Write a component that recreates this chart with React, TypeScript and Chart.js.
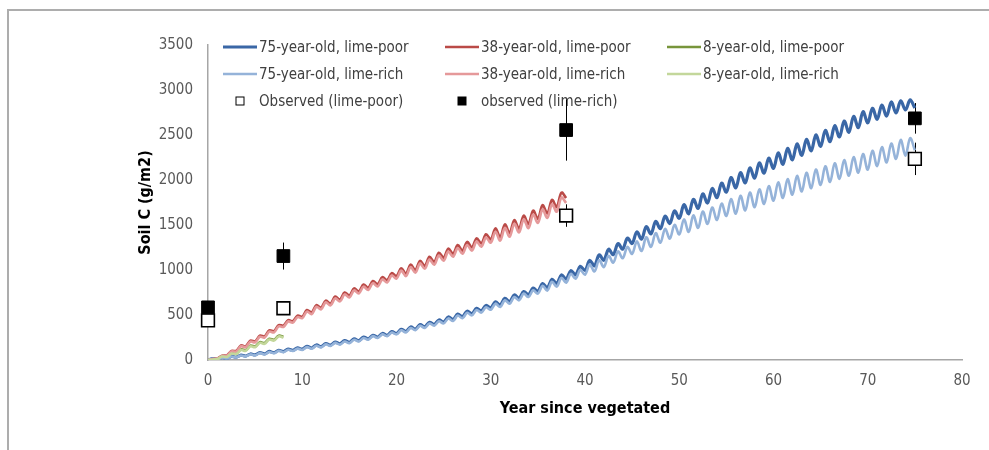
import React, { useEffect, useRef } from 'react';
import { Chart, registerables } from 'chart.js';

Chart.register(...registerables);

// ---------- DATA ----------
// simulated series sampled every half year (years since vegetated)
const STEP_YEARS = 0.5;

const poor75 = [0,15,5,28,18,41,31,54,44,67,57,82,68,95,81,108,94,121,107,134,120,
151,133,167,149,183,165,199,181,215,197,
235,215,255,235,275,255,295,275,315,295,
341,318,367,344,393,370,419,396,445,422,
478,450,510,482,542,514,574,546,606,578,
647,610,685,648,723,686,761,724,799,762,
849,803,897,851,945,899,993,947,1041,995,
1106,1047,1168,1109,1230,1171,1292,1233,1354,1295,
1424,1343,1482,1401,1540,1459,1598,1517,1656,1575,
1725,1625,1785,1685,1845,1745,1905,1805,1965,1865,
2027,1914,2081,1968,2135,2022,2189,2076,2243,2130,
2300,2175,2350,2225,2400,2275,2450,2325,2500,2375,
2551,2427,2603,2479,2655,2531,2707,2583,2759,2635,
2797,2675,2832,2710,2867,2745,2880,2780,2890,2800];

const rich75 = [0,14,4,26,16,38,28,50,40,62,52,76,62,89,75,101,87,113,100,126,112,
143,125,158,140,174,156,190,171,205,187,
225,205,245,225,265,245,285,265,305,285,
330,307,356,332,380,357,406,382,430,407,
462,434,494,465,524,496,556,527,586,558,
626,589,664,626,700,663,738,700,774,737,
825,771,869,815,913,859,957,903,1001,947,
1060,984,1109,1033,1158,1082,1207,1131,1256,1180,
1318,1211,1364,1257,1410,1303,1456,1349,1502,1395,
1562,1424,1606,1468,1650,1512,1694,1556,1738,1600,
1788,1626,1824,1662,1860,1698,1896,1734,1932,1770,
1973,1801,2009,1837,2045,1873,2081,1909,2117,1945,
2152,1979,2186,2013,2220,2047,2254,2081,2288,2115,
2325,2155,2365,2195,2405,2235,2445,2270,2465,2330];

const poor38 = [0,12,18,48,52,100,102,163,152,215,207,270,262,328,322,388,382,443,432,493,482,
555,527,610,582,660,627,705,672,750,717,795,762,838,802,878,842,920,887,965,932,
1020,960,1060,1000,1102,1045,1147,1090,1192,1135,1237,1180,1277,1215,1312,1250,1352,1295,1397,1340,
1462,1365,1507,1410,1555,1460,1605,1510,1660,1570,1720,1630,1780,1700,1860,1800];

const rich38 = [0,10,16,44,48,94,94,153,142,204,196,258,250,315,308,374,367,428,416,477,465,
538,510,592,563,641,607,685,651,729,695,773,739,815,778,854,817,895,861,939,905,
993,932,1032,971,1073,1015,1117,1059,1161,1103,1205,1147,1244,1181,1278,1215,1317,1259,1361,1303,
1424,1326,1468,1370,1514,1418,1562,1466,1615,1524,1672,1580,1730,1648,1805,1745];

const poor8 = [0,8,12,42,38,78,72,118,110,160,150,198,188,236,224,270,258];
const rich8 = [0,6,10,38,34,72,66,110,102,152,142,190,180,228,216,262,250];

const obsYears = [0, 8, 38, 75];
const obsPoor = [440, 575, 1605, 2235];
const obsPoorErr = [0, 0, 125, 180];
const obsRich = [585, 1155, 2555, 2685];
const obsRichErr = [0, 150, 340, 170];

const seriesLabels = [
  '75-year-old, lime-poor', '38-year-old, lime-poor', '8-year-old, lime-poor',
  '75-year-old, lime-rich', '38-year-old, lime-rich', '8-year-old, lime-rich',
  'Observed (lime-poor)', 'observed (lime-rich)',
];

const xTitle = 'Year since vegetated';
const yTitle = 'Soil C (g/m2)';

// ---------- STYLE ----------
const FONT = "'Liberation Sans Narrow', 'Arial Narrow', 'DejaVu Sans Condensed', 'Liberation Sans', sans-serif";
const lineColors = ['#3A67A6', '#BA4A47', '#77953B', '#95B3D9', '#E5999A', '#C3D79B'];
const lineWidths = [3.2, 2.6, 2.6, 2.6, 2.6, 2.6];

const toPts = (vals: number[]) => vals.map((v, i) => ({ x: i * STEP_YEARS, y: v }));
const toObs = (vals: number[]) => vals.map((v, i) => ({ x: obsYears[i], y: v }));

const lineSeries = [poor75, poor38, poor8, rich75, rich38, rich8];

const decor = {
  id: 'decor',
  beforeDatasetsDraw(chart: any) {
    const ctx = chart.ctx as CanvasRenderingContext2D;
    // legend
    const rows = [47, 74, 101];
    const cols = [223, 445, 667];
    ctx.save();
    ctx.font = `15px ${FONT}`;
    ctx.textBaseline = 'middle';
    ctx.textAlign = 'left';
    for (let i = 0; i < 6; i++) {
      const r = i < 3 ? 0 : 1;
      const c = i % 3;
      const y = rows[r];
      const x = cols[c];
      ctx.strokeStyle = lineColors[i];
      ctx.lineWidth = lineWidths[i];
      ctx.beginPath();
      ctx.moveTo(x, y);
      ctx.lineTo(x + 34, y);
      ctx.stroke();
      ctx.fillStyle = '#404040';
      ctx.fillText(seriesLabels[i], x + 36, y + 1);
    }
    for (let k = 0; k < 2; k++) {
      const x = cols[k] + 17;
      const y = rows[2];
      ctx.lineWidth = 1;
      ctx.strokeStyle = '#000';
      ctx.fillStyle = k === 0 ? '#fff' : '#000';
      ctx.fillRect(x - 4, y - 4, 8, 8);
      ctx.strokeRect(x - 4, y - 4, 8, 8);
      ctx.fillStyle = '#404040';
      ctx.fillText(seriesLabels[6 + k], cols[k] + 36, y + 1);
    }
    // error bars
    const xs = chart.scales.x;
    const ys = chart.scales.y;
    ctx.strokeStyle = '#000';
    ctx.lineWidth = 1;
    const drawErr = (vals: number[], errs: number[]) => {
      vals.forEach((v, i) => {
        if (!errs[i]) return;
        const px = Math.round(xs.getPixelForValue(obsYears[i])) + 0.5;
        ctx.beginPath();
        ctx.moveTo(px, ys.getPixelForValue(v - errs[i]));
        ctx.lineTo(px, ys.getPixelForValue(v + errs[i]));
        ctx.stroke();
      });
    };
    drawErr(obsPoor, obsPoorErr);
    drawErr(obsRich, obsRichErr);
    ctx.restore();
  },
  afterDraw(chart: any) {
    const ctx = chart.ctx as CanvasRenderingContext2D;
    const { left, right, top, bottom } = chart.chartArea;
    ctx.save();
    ctx.fillStyle = '#000';
    ctx.font = `bold 16px ${FONT}`;
    ctx.textAlign = 'center';
    ctx.textBaseline = 'middle';
    ctx.fillText(xTitle, (left + right) / 2, 409);
    ctx.translate(146, (top + bottom) / 2);
    ctx.rotate(-Math.PI / 2);
    ctx.fillText(yTitle, 0, 0);
    ctx.restore();
  },
};

export default function App() {
  const ref = useRef<HTMLCanvasElement>(null);
  useEffect(() => {
    const lineOrders = [8, 7, 6, 5, 4, 3];
    const datasets: any[] = lineSeries.map((vals, i) => ({
      label: seriesLabels[i],
      data: toPts(vals),
      borderColor: lineColors[i],
      backgroundColor: lineColors[i],
      borderWidth: lineWidths[i],
      pointRadius: 0,
      tension: 0.35,
      fill: false,
      order: lineOrders[i],
    }));
    datasets.push({
      label: seriesLabels[6],
      data: toObs(obsPoor),
      showLine: false,
      pointStyle: 'rect',
      pointRadius: 9,
      pointBackgroundColor: '#ffffff',
      pointBorderColor: '#000000',
      pointBorderWidth: 1.6,
      clip: false,
      order: 2,
    });
    datasets.push({
      label: seriesLabels[7],
      data: toObs(obsRich),
      showLine: false,
      pointStyle: 'rect',
      pointRadius: 9,
      pointBackgroundColor: '#000000',
      pointBorderColor: '#000000',
      pointBorderWidth: 1,
      clip: false,
      order: 1,
    });

    const chart = new Chart(ref.current!, {
      type: 'line',
      data: { datasets },
      plugins: [decor],
      options: {
        animation: false,
        responsive: false,
        devicePixelRatio: 1,
        layout: { padding: { top: 45, right: 27, left: 0, bottom: 0 } },
        plugins: { legend: { display: false }, tooltip: { enabled: false } },
        scales: {
          x: {
            type: 'linear',
            min: 0,
            max: 80,
            afterFit: (s: any) => { s.height = 90; },
            grid: { display: false, drawTicks: false },
            border: { display: true, color: '#A6A6A6', width: 1.5 },
            ticks: {
              stepSize: 10,
              padding: 12,
              maxRotation: 0,
              color: '#595959',
              font: { family: FONT, size: 15 },
              callback: (v: any) => String(v),
            },
          },
          y: {
            type: 'linear',
            min: 0,
            max: 3500,
            afterFit: (s: any) => { s.width = 208; },
            grid: { display: false, drawTicks: false },
            border: { display: true, color: '#A6A6A6', width: 1.5 },
            ticks: {
              stepSize: 500,
              padding: 15,
              color: '#595959',
              font: { family: FONT, size: 15 },
              callback: (v: any) => String(v),
            },
          },
        },
      } as any,
    });
    return () => chart.destroy();
  }, []);

  return (
    <div style={{ position: 'fixed', left: 0, top: 0, width: 989, height: 450, background: '#fff', overflow: 'hidden' }}>
      <div style={{ position: 'absolute', left: 7, top: 9, width: 1100, height: 600, borderTop: '2px solid #ADADAD', borderLeft: '2px solid #ADADAD' }} />
      <canvas ref={ref} width={989} height={450} style={{ position: 'absolute', left: 0, top: 0, display: 'block' }} />
    </div>
  );
}
